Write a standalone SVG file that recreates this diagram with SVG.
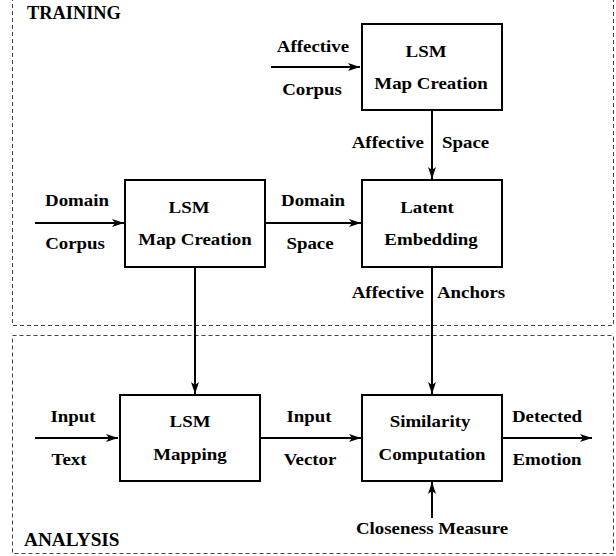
<svg xmlns="http://www.w3.org/2000/svg" width="616" height="556" viewBox="0 0 616 556">
<style>
.bg{fill:#fff}
.frame{fill:none;stroke:#444;stroke-width:1;stroke-dasharray:4 3}
.box{fill:#fff;stroke:#000;stroke-width:2}
.con{fill:none;stroke:#000;stroke-width:2}
.arr{marker-end:url(#ah)}
text{font-family:"Liberation Serif","Times New Roman",serif;font-weight:bold;fill:#000}
.l{font-size:16px;text-anchor:middle}
.ls{font-size:16px;text-anchor:start}
.le{font-size:16px;text-anchor:end}
.h{font-size:18px;text-anchor:start}
</style>
<defs>
<marker id="ah" markerUnits="userSpaceOnUse" markerWidth="13" markerHeight="8" refX="12" refY="4" orient="auto">
<path d="M0,0 L12,4 L0,8 L3,4 z" fill="#000"/>
</marker>
</defs>
<rect class="bg" x="0" y="0" width="616" height="556"/>

<g id="training">
<rect class="frame" x="12.5" y="-10" width="601" height="335.5"/>
<text class="h" transform="translate(27,19) scale(1.02,1)">TRAINING</text>
</g>
<g id="analysis">
<rect class="frame" x="12.5" y="335.5" width="601" height="218"/>
<text class="h" transform="translate(24,546) scale(1.07,1)">ANALYSIS</text>
</g>

<g id="connectors">
<path class="con arr" d="M271,67 L360,67"/>
<path class="con arr" d="M432,110 L432,179"/>
<path class="con arr" d="M35,223 L124,223"/>
<path class="con arr" d="M266,223 L361,223"/>
<path class="con arr" d="M195,267 L195,394"/>
<path class="con arr" d="M432,267 L432,394"/>
<path class="con arr" d="M35,438 L118,438"/>
<path class="con arr" d="M260,438 L361,438"/>
<path class="con arr" d="M502,438 L592,438"/>
<path class="con arr" d="M432,518 L432,482"/>
<text class="l" transform="translate(313,52) scale(1.18,1)">Affective</text>
<text class="l" transform="translate(312,95) scale(1.18,1)">Corpus</text>
<text class="le" transform="translate(424,148) scale(1.18,1)">Affective</text>
<text class="ls" transform="translate(442,148) scale(1.18,1)">Space</text>
<text class="l" transform="translate(77,206) scale(1.18,1)">Domain</text>
<text class="l" transform="translate(75,249) scale(1.18,1)">Corpus</text>
<text class="l" transform="translate(313,206) scale(1.18,1)">Domain</text>
<text class="l" transform="translate(310,249) scale(1.18,1)">Space</text>
<text class="le" transform="translate(424,298) scale(1.18,1)">Affective</text>
<text class="ls" transform="translate(437,298) scale(1.18,1)">Anchors</text>
<text class="l" transform="translate(73,422) scale(1.18,1)">Input</text>
<text class="l" transform="translate(69,465) scale(1.18,1)">Text</text>
<text class="l" transform="translate(309,422) scale(1.18,1)">Input</text>
<text class="l" transform="translate(310,465) scale(1.18,1)">Vector</text>
<text class="l" transform="translate(547,422) scale(1.18,1)">Detected</text>
<text class="l" transform="translate(547,465) scale(1.18,1)">Emotion</text>
<text class="l" transform="translate(432,534) scale(1.18,1)">Closeness Measure</text>
</g>

<g id="lsm-affective">
<rect class="box" x="362" y="24" width="140" height="86"/>
<text class="l" transform="translate(426,57) scale(1.18,1)">LSM</text>
<text class="l" transform="translate(431,89) scale(1.18,1)">Map Creation</text>
</g>
<g id="lsm-domain">
<rect class="box" x="125" y="180" width="140" height="87"/>
<text class="l" transform="translate(189,213) scale(1.18,1)">LSM</text>
<text class="l" transform="translate(195,245) scale(1.18,1)">Map Creation</text>
</g>
<g id="latent-embedding">
<rect class="box" x="362" y="180" width="140" height="87"/>
<text class="l" transform="translate(427,213) scale(1.18,1)">Latent</text>
<text class="l" transform="translate(431,245) scale(1.18,1)">Embedding</text>
</g>
<g id="lsm-mapping">
<rect class="box" x="120" y="395" width="140" height="86"/>
<text class="l" transform="translate(190,427) scale(1.18,1)">LSM</text>
<text class="l" transform="translate(190,460) scale(1.18,1)">Mapping</text>
</g>
<g id="similarity">
<rect class="box" x="362" y="395" width="140" height="86"/>
<text class="l" transform="translate(430,427) scale(1.18,1)">Similarity</text>
<text class="l" transform="translate(432,460) scale(1.18,1)">Computation</text>
</g>
</svg>
